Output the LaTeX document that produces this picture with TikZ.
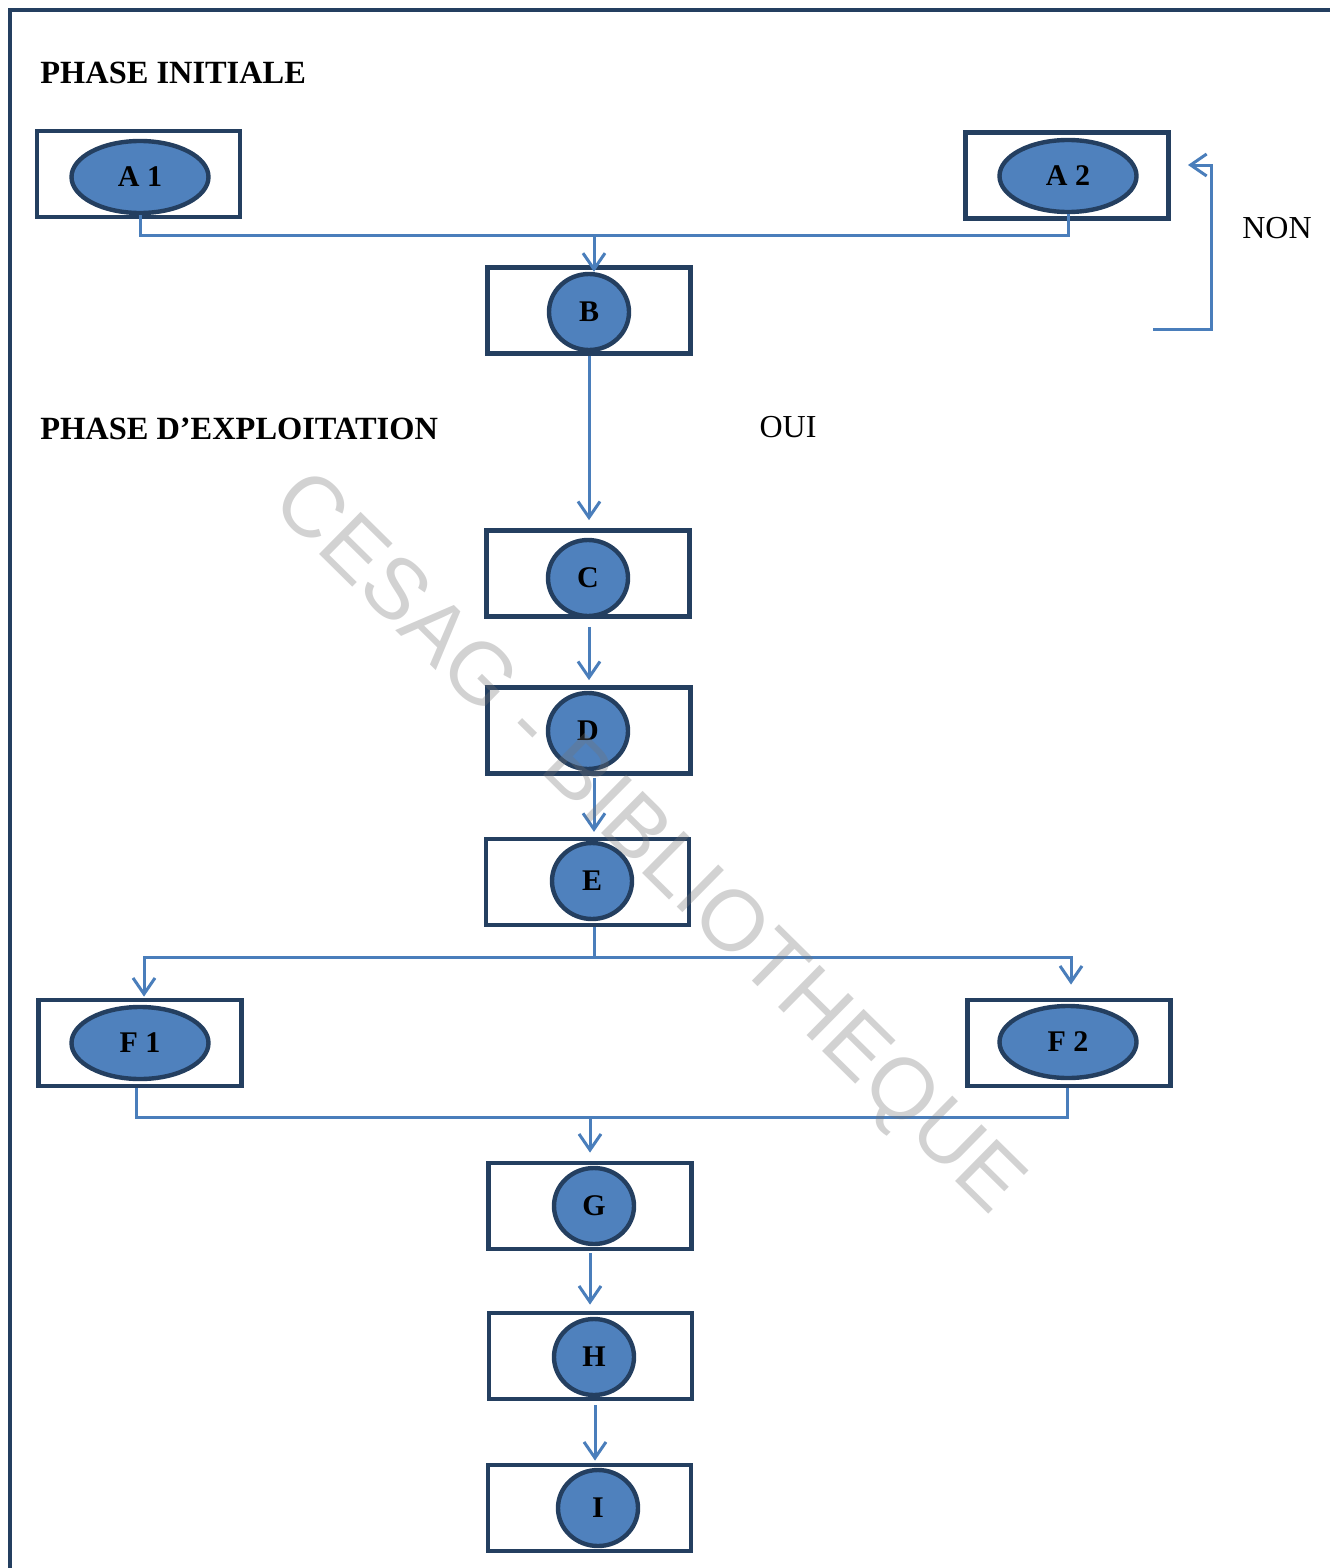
\documentclass[tikz,border=0pt]{standalone}
\usepackage{fontspec}
\setmainfont{Liberation Serif}
\newfontfamily\wmfont{Liberation Sans}
\usetikzlibrary{shapes.geometric,arrows.meta,calc}
\definecolor{frame}{HTML}{243F60}
\definecolor{blueF}{HTML}{4F81BD}
\definecolor{lineblue}{HTML}{4A7EBB}
\begin{document}
\begin{tikzpicture}[x=0.5pt,y=-0.5pt,
  stagebox/.style={draw=frame,line width=2.4pt,minimum width=101.5pt,minimum height=43pt,inner sep=0pt},
  oval/.style={ellipse,draw=frame,fill=blueF,line width=2.2pt,inner sep=0pt,minimum width=68.5pt,minimum height=36pt,font=\bfseries\fontsize{15}{15}\selectfont},
  round/.style={oval,minimum width=40pt,minimum height=38pt},
  conn/.style={draw=lineblue,line width=1.5pt},
  arr/.style={conn,-{Straight Barb[length=8pt,width=11pt,line width=1.5pt]}},
  head/.style={anchor=west,inner sep=0pt,font=\bfseries\fontsize{16.2}{16.2}\selectfont},
  plain/.style={inner sep=0pt,font=\fontsize{16}{16}\selectfont}]
\useasboundingbox (0,0) rectangle (1330,1568);
% frame
\draw[draw=frame,line width=2pt] (10,1568) -- (10,10) -- (1330,10);
% headings
\node[head] (h1) at (40,73) {PHASE INITIALE};
\node[head] (h2) at (40,429) {PHASE D’EXPLOITATION};
\node[plain] (oui) at (788,427) {OUI};
\node[plain] (non) at (1277,228) {NON};
% boxes
\node[stagebox] (a1b) at (138.5,174) {};
\node[oval] (a1) at (140,177) {A 1};
\node[stagebox] (a2b) at (1067,175.5) {};
\node[oval] (a2) at (1068,176) {A 2};
\node[stagebox] (bb) at (589,310.5) {};
\node[round] (b) at (589,312) {B};
\node[stagebox] (cb) at (588,573.5) {};
\node[round] (c) at (588,578) {C};
\node[stagebox] (db) at (589,730.5) {};
\node[round] (d) at (588,731) {D};
\node[stagebox] (eb) at (587.5,882) {};
\node[round] (e) at (592,881) {E};
\node[stagebox] (f1b) at (140,1043) {};
\node[oval] (f1) at (140,1043) {F 1};
\node[stagebox] (f2b) at (1069,1043) {};
\node[oval] (f2) at (1068,1042) {F 2};
\node[stagebox] (gb) at (590,1206) {};
\node[round] (g) at (594,1206) {G};
\node[stagebox] (hb) at (590.5,1356) {};
\node[round] (h) at (594,1357) {H};
\node[stagebox] (ib) at (589.5,1508) {};
\node[round] (i) at (598,1508) {I};
% junctions
\coordinate (jA) at (594,235);
\coordinate (jE) at (594,957);
\coordinate (jF) at (590,1117);
\coordinate (n1) at (1153,329);
\coordinate (n2) at (1211,165);
\coordinate (n3) at (1188,165);
% connectors
\draw[conn] (a1.south) -- (a1.south |- jA) -- (a2.south |- jA) -- (a2.south);
\draw[arr] (jA) -- (jA |- b.north);
\draw[arr] (bb.south) -- ($(bb.south |- cb.north)+(0,-8)$);
\draw[arr] ($(cb.south)+(1,8)$) -- ($(db.north)+(0,-5)$);
\draw[arr] ($(db.south)+(5,2)$) -- ($(db.south)+(5,56)$);
\draw[conn] (jE |- eb.south) -- (jE);
\draw[arr] (jE) -| ($(f1b.north)+(4,-1)$);
\draw[arr] (jE) -| ($(f2b.north)+(2,-13)$);
\draw[conn] ($(f1b.south)+(-4,0)$) |- (jF) -| ($(f2b.south)+(-2,0)$);
\draw[arr] (jF) -- ($(gb.north)+(0,-8)$);
\draw[arr] ($(gb.south)+(0,2)$) -- ($(hb.north)+(-0.5,-6)$);
\draw[arr] ($(hb.south)+(4.5,4)$) -- ($(ib.north)+(5.5,-2)$);
\draw[arr] (n1) -| (n2) -- (n3);
% watermark (on top, translucent)
\node[rotate=-44.6,text=black!55,text opacity=0.32,font=\wmfont\fontsize{43}{43}\selectfont,inner sep=0pt] (wm) at (646,846) {CESAG - BIBLIOTHEQUE};
\end{tikzpicture}
\end{document}
